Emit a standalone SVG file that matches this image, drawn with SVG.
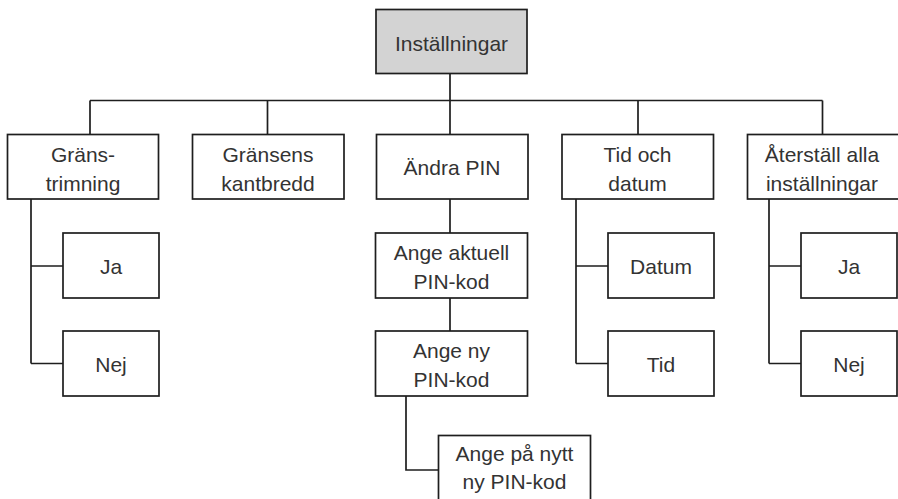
<svg xmlns="http://www.w3.org/2000/svg" width="898" height="499" viewBox="0 0 898 499">
<style>
.box{fill:#ffffff;stroke:#1e1e1e;stroke-width:1.7}
.root{fill:#d3d3d3;stroke:#1e1e1e;stroke-width:1.7}
.conn{fill:none;stroke:#1e1e1e;stroke-width:1.7}
text{font-family:"Liberation Sans",Arial,sans-serif;font-size:21px;fill:#333333;text-anchor:middle}
</style>
<rect width="898" height="499" fill="#ffffff"/>
<g id="connectors">
<path class="conn" d="M450 73.5V199M90 100.5H822.5M90 100.5V134.5M267.5 100.5V134.5M638 100.5V134.5M822.5 100.5V134.5"/>
<path class="conn" d="M31 199V363.5M31 266H63M31 363.5H63"/>
<path class="conn" d="M450 199V233M450 298V331M406 396V470H438.5"/>
<path class="conn" d="M576 199V363.5M576 266H608M576 363.5H608"/>
<path class="conn" d="M769 199V363.5M769 266H801M769 363.5H801"/>
</g>
<g id="root"><rect class="root" x="376" y="9.5" width="151" height="64"/><text x="451.5" y="50.5">Inställningar</text></g>
<g id="n1"><rect class="box" x="7.5" y="134.5" width="151" height="64.5"/><text x="83" y="161.5">Gräns-</text><text x="83" y="190.5">trimning</text></g>
<g id="n2"><rect class="box" x="192.5" y="134.5" width="151.5" height="64.5"/><text x="268" y="161.5">Gränsens</text><text x="268" y="190.5">kantbredd</text></g>
<g id="n3"><rect class="box" x="376.5" y="134.5" width="151.5" height="64.5"/><text x="452" y="175">Ändra PIN</text></g>
<g id="n4"><rect class="box" x="562" y="134.5" width="151.5" height="64.5"/><text x="637.5" y="161.5">Tid och</text><text x="637.5" y="190.5">datum</text></g>
<g id="n5"><rect class="box" x="747.5" y="134.5" width="152" height="64.5"/><text x="822" y="161.5">Återställ alla</text><text x="822" y="190.5">inställningar</text></g>
<g id="n1a"><rect class="box" x="63" y="233" width="96" height="65"/><text x="111" y="273.5">Ja</text></g>
<g id="n1b"><rect class="box" x="63" y="331" width="96" height="65"/><text x="111" y="371.5">Nej</text></g>
<g id="n3a"><rect class="box" x="375.5" y="233" width="152" height="65"/><text x="451.5" y="259.5">Ange aktuell</text><text x="451.5" y="288.5">PIN-kod</text></g>
<g id="n3b"><rect class="box" x="375.5" y="331" width="152" height="65"/><text x="451.5" y="357.5">Ange ny</text><text x="451.5" y="386.5">PIN-kod</text></g>
<g id="n3c"><rect class="box" x="438.5" y="435.5" width="152" height="65"/><text x="514.5" y="460.5">Ange på nytt</text><text x="514.5" y="489">ny PIN-kod</text></g>
<g id="n4a"><rect class="box" x="608" y="233" width="106" height="65"/><text x="661" y="273.5">Datum</text></g>
<g id="n4b"><rect class="box" x="608" y="331" width="106" height="65"/><text x="661" y="371.5">Tid</text></g>
<g id="n5a"><rect class="box" x="801" y="233" width="96" height="65"/><text x="849" y="273.5">Ja</text></g>
<g id="n5b"><rect class="box" x="801" y="331" width="96" height="65"/><text x="849" y="371.5">Nej</text></g>
</svg>
